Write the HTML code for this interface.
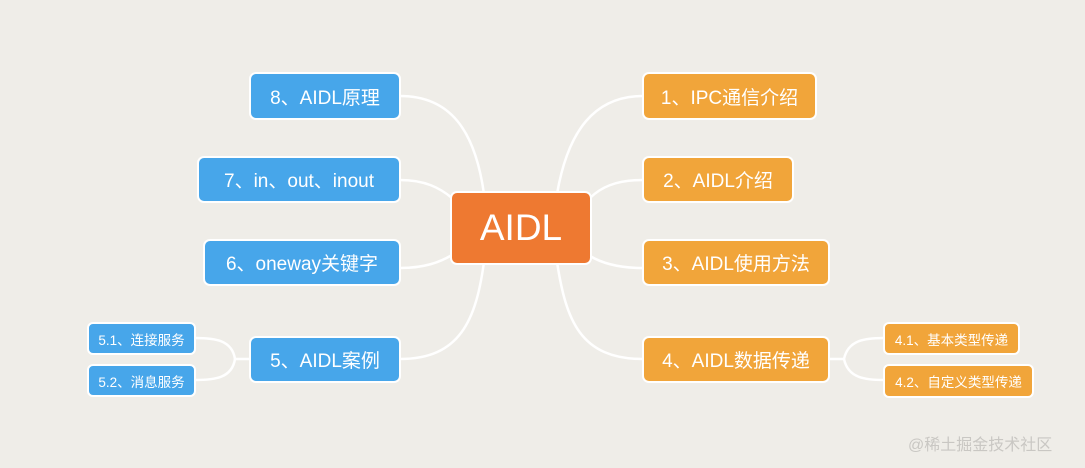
<!DOCTYPE html>
<html><head><meta charset="utf-8"><style>
body{margin:0;width:1085px;height:468px;background:#efede8;position:relative;overflow:hidden;font-family:"Liberation Sans","Noto Sans CJK SC",sans-serif}
.n{position:absolute;box-sizing:border-box;border:2px solid #fff;border-radius:7px;color:#fff;display:flex;align-items:center;justify-content:center;font-size:19px}
.b{background:#47a6ea}.o{background:#f1a53a}
.s{font-size:13.5px;border-radius:6px}
svg{position:absolute;left:0;top:0}
</style></head><body>
<svg width="1085" height="468" fill="none" stroke="#fff" stroke-width="2.5">
<path d="M400 96 C450 96 475 130 484 194"/>
<path d="M400 180 C425 180 440 188 452 198"/>
<path d="M400 268 C425 268 440 262 452 255"/>
<path d="M400 359 C460 359 476 320 484 262"/>
<path d="M643 96 C595 96 568 130 557 194"/>
<path d="M643 180 C615 180 600 188 590 198"/>
<path d="M643 268 C615 268 600 262 590 256"/>
<path d="M643 359 C580 359 566 320 557 262"/>
<path d="M250 359 L235 359 C232 340 215 338 195 338"/>
<path d="M235 359 C232 378 215 380 195 380"/>
<path d="M829 359 L844 359 C848 340 865 338 884 338"/>
<path d="M844 359 C848 378 865 380 884 380"/>
</svg>
<div class="n" style="left:450px;top:191px;width:142px;height:74px;background:#ee7931;font-size:37px">AIDL</div>
<div class="n b" style="left:249px;top:72px;width:152px;height:48px">8、AIDL原理</div>
<div class="n b" style="left:197px;top:156px;width:204px;height:47px">7、in、out、inout</div>
<div class="n b" style="left:203px;top:239px;width:198px;height:47px">6、oneway关键字</div>
<div class="n b" style="left:249px;top:336px;width:152px;height:47px">5、AIDL案例</div>
<div class="n b s" style="left:87px;top:322px;width:109px;height:33px">5.1、连接服务</div>
<div class="n b s" style="left:87px;top:364px;width:109px;height:33px">5.2、消息服务</div>
<div class="n o" style="left:642px;top:72px;width:175px;height:48px">1、IPC通信介绍</div>
<div class="n o" style="left:642px;top:156px;width:152px;height:47px">2、AIDL介绍</div>
<div class="n o" style="left:642px;top:239px;width:188px;height:47px">3、AIDL使用方法</div>
<div class="n o" style="left:642px;top:336px;width:188px;height:47px">4、AIDL数据传递</div>
<div class="n o s" style="left:883px;top:322px;width:137px;height:33px">4.1、基本类型传递</div>
<div class="n o s" style="left:883px;top:364px;width:151px;height:34px">4.2、自定义类型传递</div>
<div style="position:absolute;left:908px;top:431px;font-size:16px;color:#c9c7c3">@稀土掘金技术社区</div>
</body></html>
